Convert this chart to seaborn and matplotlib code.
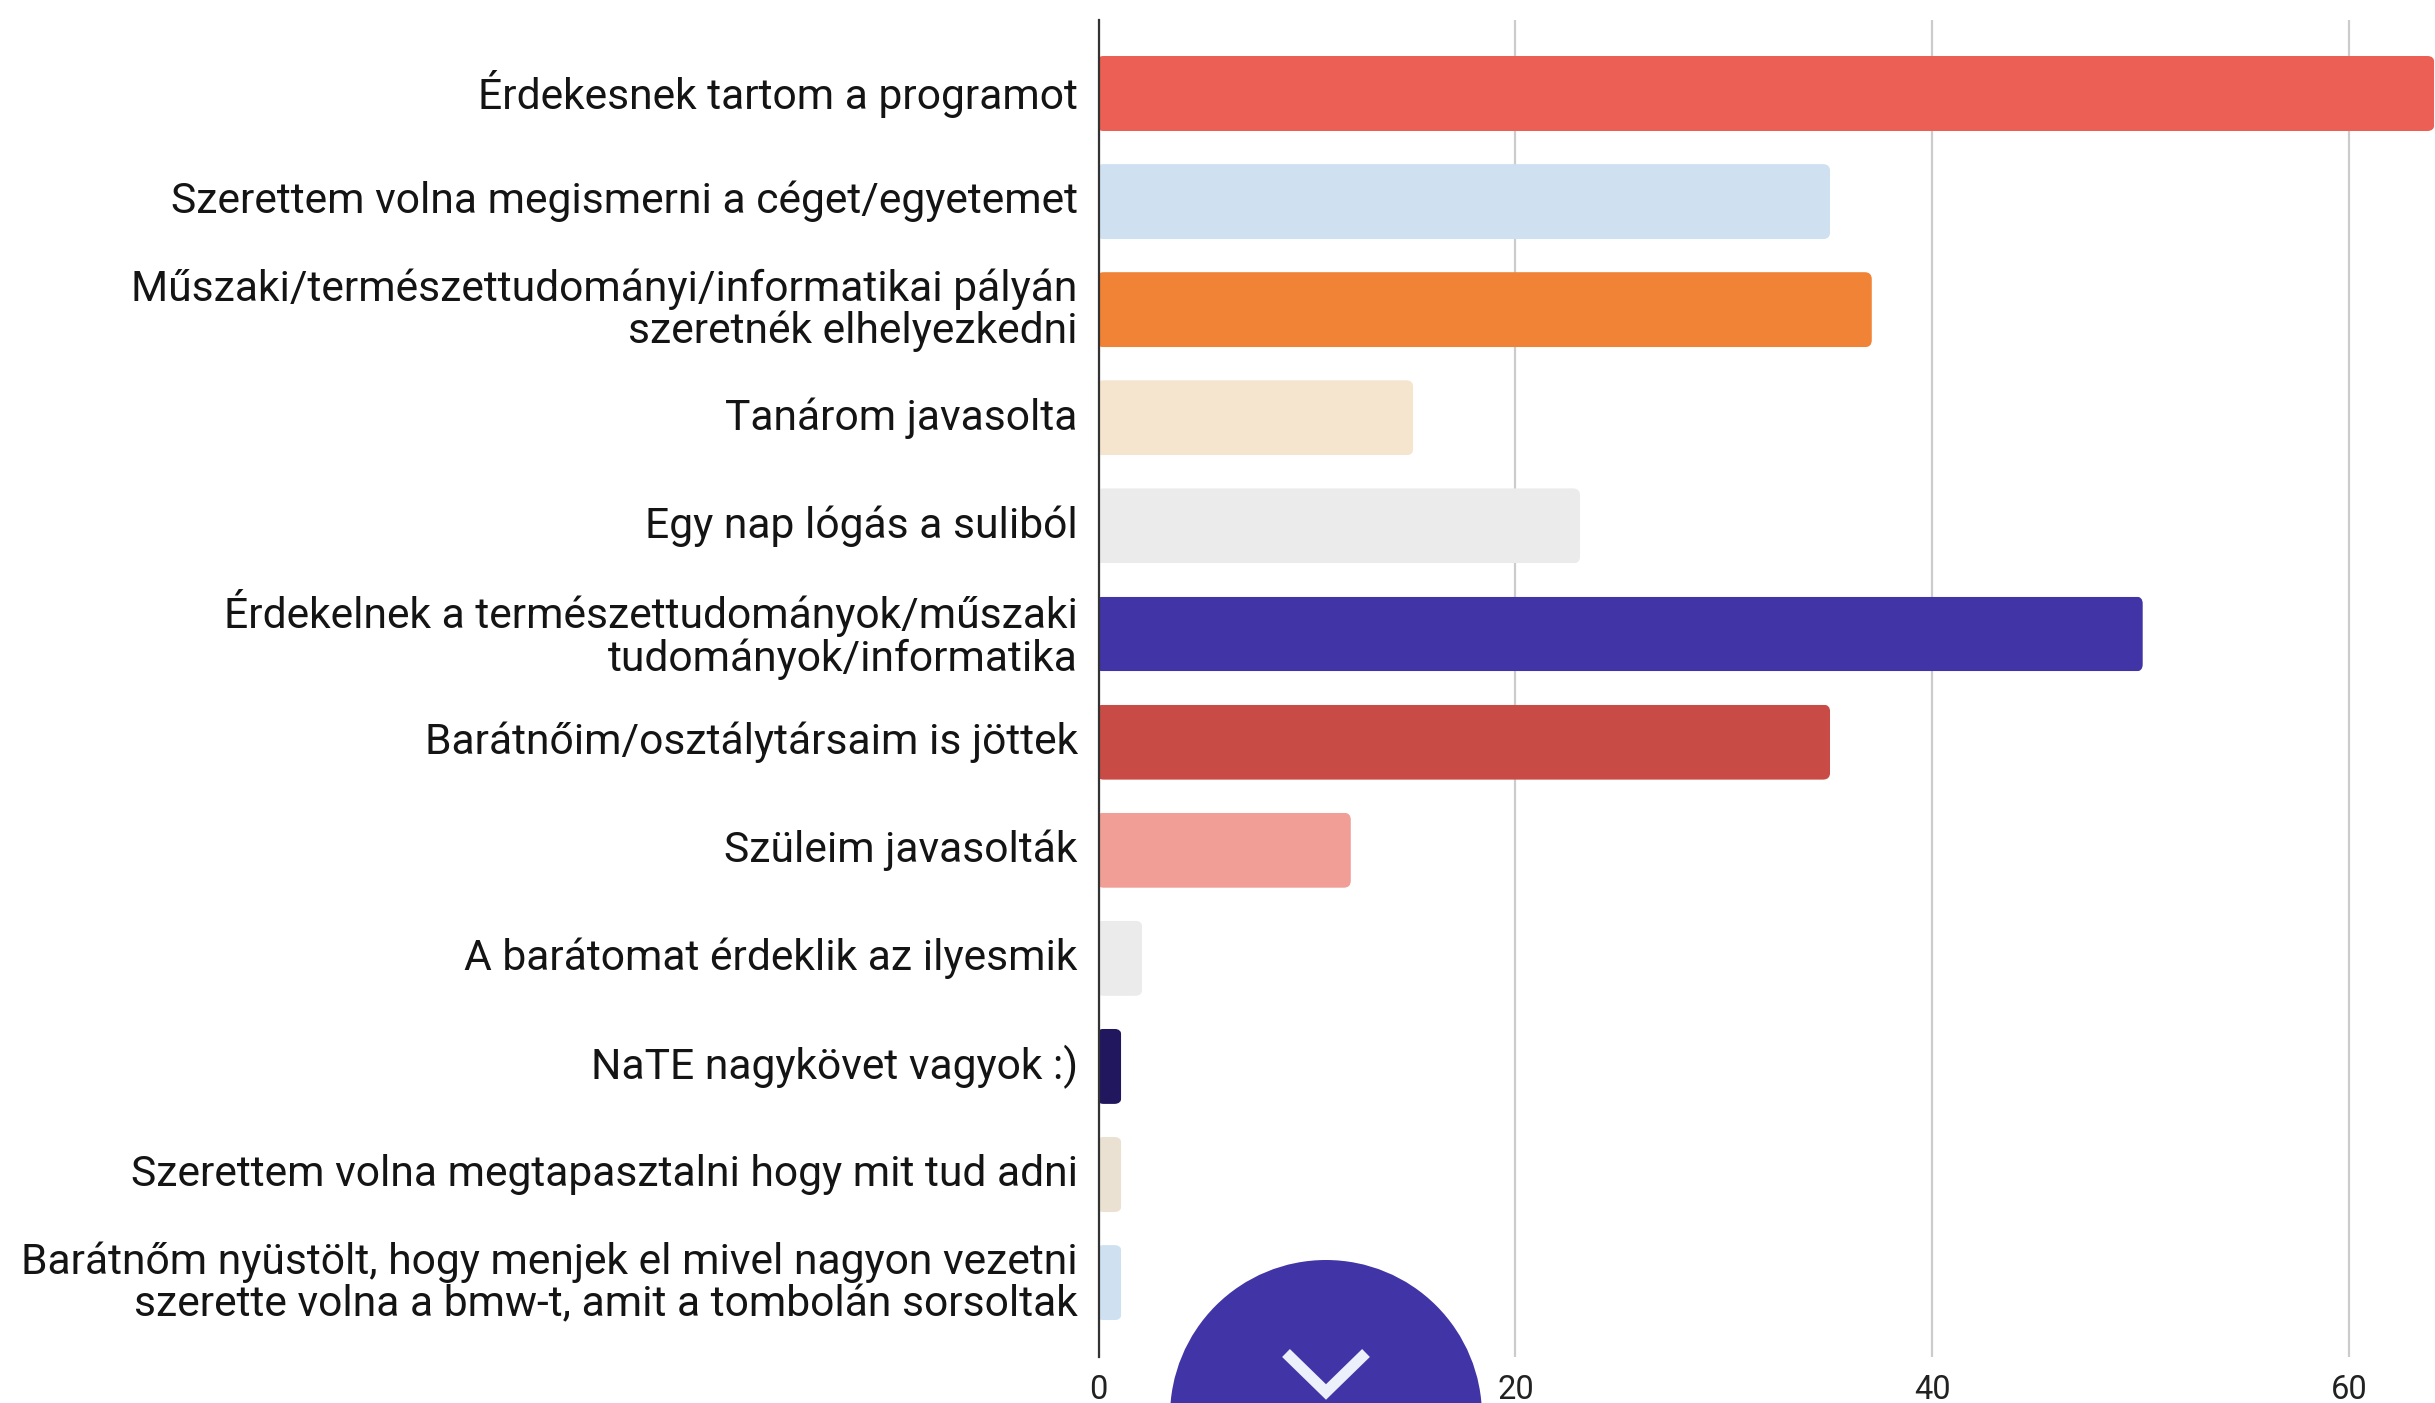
import matplotlib
matplotlib.use("Agg")
import matplotlib.pyplot as plt
import seaborn as sns
import pandas as pd
from matplotlib.patches import FancyBboxPatch, Ellipse
from matplotlib.lines import Line2D
from matplotlib.transforms import IdentityTransform, ScaledTranslation

categories = [
    "Érdekesnek tartom a programot",
    "Szerettem volna megismerni a céget/egyetemet",
    "Műszaki/természettudományi/informatikai pályán\nszeretnék elhelyezkedni",
    "Tanárom javasolta",
    "Egy nap lógás a suliból",
    "Érdekelnek a természettudományok/műszaki\ntudományok/informatika",
    "Barátnőim/osztálytársaim is jöttek",
    "Szüleim javasolták",
    "A barátomat érdeklik az ilyesmik",
    "NaTE nagykövet vagyok :)",
    "Szerettem volna megtapasztalni hogy mit tud adni",
    "Barátnőm nyüstölt, hogy menjek el mivel nagyon vezetni\nszerette volna a bmw-t, amit a tombolán sorsoltak",
]
values = [64, 35, 37, 15, 23, 50, 35, 12, 2, 1, 1, 1]
colors = ["#EC5F55", "#CFE0F0", "#F18336", "#F5E5CF", "#EBEBEB", "#4134A6",
          "#C94B45", "#F09E96", "#EBEBEB", "#20175F", "#EBE1D3", "#CFE0F0"]
x_ticks = [0, 20, 40, 60]

W, H = 2435, 1403
sns.set_theme(style="white")
plt.rcParams["font.family"] = ["Roboto", "DejaVu Sans"]

fig = plt.figure(figsize=(W / 100, H / 100), dpi=100, facecolor="white")
left, right, top, bottom = 1098.6, 2435, 20, 1357
ax = fig.add_axes([left / W, 1 - bottom / H, (right - left) / W, (bottom - top) / H])

df = pd.DataFrame({"category": categories, "value": values})
sns.barplot(data=df, y="category", x="value", hue="category", palette=colors,
            order=categories, hue_order=categories, dodge=False, legend=False,
            width=0.655, saturation=1, ax=ax, zorder=3)

ax.set_xlim(0, (right - left) / 20.84)
ax.set_ylim((bottom - 93.5) / 108.1, (top - 93.5) / 108.1)
ax.set_xlabel("")
ax.set_ylabel("")
ax.set_xticks(x_ticks)
ax.set_xticklabels([str(t) for t in x_ticks])
ax.grid(axis="x", color="#CCCCCC", linewidth=1.6, zorder=0)
ax.grid(axis="y", visible=False)
ax.set_axisbelow(True)
for s in ["top", "right", "bottom"]:
    ax.spines[s].set_visible(False)
ax.spines["left"].set_color("#333333")
ax.spines["left"].set_linewidth(1.6)
ax.spines["left"].set_zorder(5)
ax.tick_params(axis="y", length=0, pad=15, labelsize=30.7, labelcolor="#141414")
ax.tick_params(axis="x", length=0, pad=12, labelsize=23.5, labelcolor="#222222")
shift_up = ScaledTranslation(0, 4.5 / 100, fig.dpi_scale_trans)
for lab in ax.get_yticklabels():
    lab.set_linespacing(1.04)
    lab.set_transform(lab.get_transform() + shift_up)

# Rounded ends: each bar keeps its geometry and gets a rounded clip
fig.canvas.draw()
for bar in ax.patches:
    bar.set_edgecolor(bar.get_facecolor())
    bar.set_linewidth(3)
    bb = bar.get_window_extent()
    grow = 2.1
    r = 7
    clip = FancyBboxPatch((bb.x0 - grow + r, bb.y0 - grow + r),
                          bb.width + 2 * grow - 2 * r, bb.height + 2 * grow - 2 * r,
                          boxstyle=f"round,pad={r},rounding_size={r}",
                          transform=IdentityTransform())
    bar.set_clip_path(clip)

# Scroll button overlay, cut off by the bottom edge
cx, cy, rad = 1326, 1416, 156
fig.add_artist(Ellipse((cx / W, 1 - cy / H), 2 * rad / W, 2 * rad / H,
                       transform=fig.transFigure, facecolor="#4134A6",
                       edgecolor="none", zorder=10))
fig.add_artist(Line2D([1286 / W, cx / W, 1366 / W],
                      [1 - 1353 / H, 1 - 1392 / H, 1 - 1353 / H],
                      transform=fig.transFigure, color="#EBF0FB", linewidth=8,
                      solid_joinstyle="miter", solid_capstyle="butt", zorder=11))

fig.savefig("out.png", dpi=100, facecolor="white")
